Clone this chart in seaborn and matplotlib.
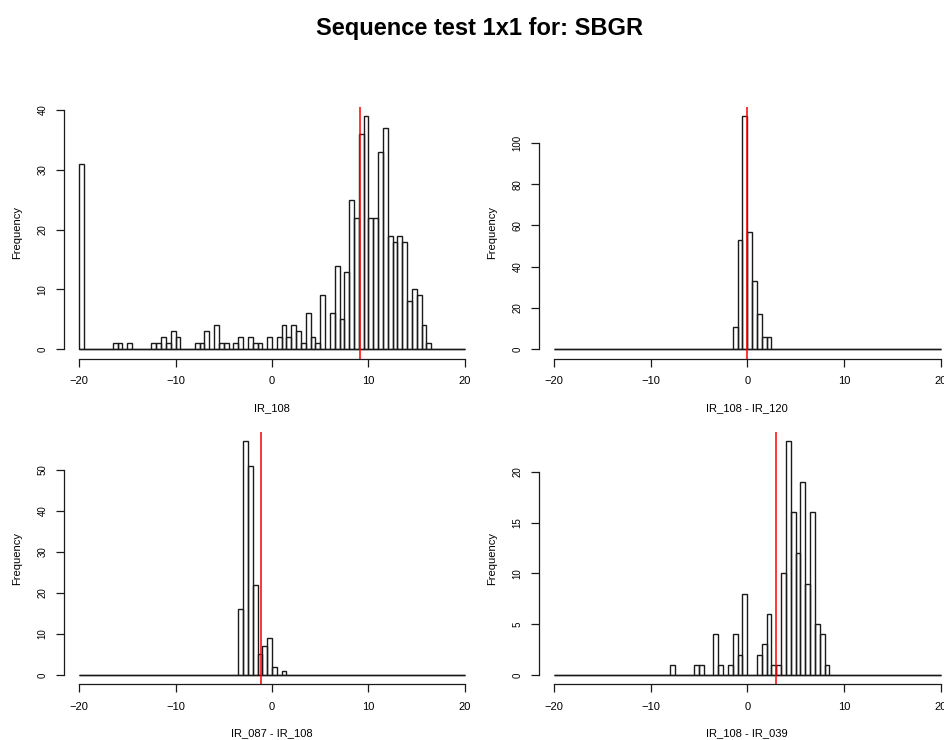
import numpy as np
import pandas as pd
import matplotlib
matplotlib.use("Agg")
import matplotlib.pyplot as plt
import seaborn as sns

# bins are 0.5 wide from -20 to 20; only non-empty bins listed (bin start, count)
ir108_starts = [-20, -16.5, -16, -15, -12.5, -12, -11.5, -11, -10.5, -10, -8, -7.5, -7,
                -6, -5.5, -5, -4, -3.5, -2.5, -2, -1.5, -0.5, 0.5, 1, 1.5, 2, 2.5, 3,
                3.5, 4, 4.5, 5, 6, 6.5, 7, 7.5, 8, 8.5, 9, 9.5, 10, 10.5, 11, 11.5, 12,
                12.5, 13, 13.5, 14, 14.5, 15, 15.5, 16]
ir108_counts = [31, 1, 1, 1, 1, 1, 2, 1, 3, 2, 1, 1, 3,
                4, 1, 1, 1, 2, 2, 1, 1, 2, 2, 4, 2, 4, 3, 1,
                6, 2, 1, 9, 6, 14, 5, 13, 25, 22, 36, 39, 22, 22, 33, 37, 19,
                18, 19, 18, 8, 10, 9, 4, 1]

d108_120_starts = [-1.5, -1, -0.5, 0, 0.5, 1, 1.5, 2]
d108_120_counts = [11, 53, 113, 57, 33, 17, 6, 6]

d087_108_starts = [-3.5, -3, -2.5, -2, -1.5, -1, -0.5, 0, 1]
d087_108_counts = [16, 57, 51, 22, 5, 7, 9, 2, 1]

d108_039_starts = [-8, -5.5, -5, -3.5, -3, -2, -1.5, -1, -0.5, 1, 1.5, 2, 2.5, 3,
                   3.5, 4, 4.5, 5, 5.5, 6, 6.5, 7, 7.5, 8]
d108_039_counts = [1, 1, 1, 4, 1, 1, 4, 2, 8, 2, 3, 6, 1, 1,
                   10, 23, 16, 12, 19, 9, 16, 5, 4, 1]

xlabels = ["IR_108", "IR_108 - IR_120", "IR_087 - IR_108", "IR_108 - IR_039"]
red_lines = [9.1, 0.0, -1.1, 2.93]
yticks = [[0, 10, 20, 30, 40], [0, 20, 40, 60, 80, 100],
          [0, 10, 20, 30, 40, 50], [0, 5, 10, 15, 20]]
xticks = [-20, -10, 0, 10, 20]

sns.set_theme(style="white")
plt.rcParams["font.family"] = ["Liberation Sans", "DejaVu Sans"]
plt.rcParams["text.color"] = "black"
plt.rcParams["axes.labelcolor"] = "black"
plt.rcParams["xtick.color"] = "black"
plt.rcParams["ytick.color"] = "black"

fig = plt.figure(figsize=(9.44, 7.4), dpi=100)
W, H = 944, 740
# axes boxes in pixels: left, top, right, bottom
boxes = [(63.6, 106.7, 480.4, 358.6), (538.5, 106.7, 956.0, 358.6),
         (63.6, 432.0, 480.4, 684.3), (538.5, 432.0, 956.0, 684.3)]

edges = [-20 + 0.5 * k for k in range(81)]
panels = [(ir108_starts, ir108_counts), (d108_120_starts, d108_120_counts),
          (d087_108_starts, d087_108_counts), (d108_039_starts, d108_039_counts)]

for i, (starts, counts) in enumerate(panels):
    l, t, r, b = boxes[i]
    ax = fig.add_axes([l / W, 1 - b / H, (r - l) / W, (b - t) / H])
    df = pd.DataFrame({"value": np.array(starts, dtype=float) + 0.25,
                       "n": np.array(counts, dtype=float)})
    sns.histplot(data=df, x="value", weights="n", bins=edges,
                 fill=False, color="#1a1a1a", linewidth=1.0, ax=ax)
    # empty bins show as a flat line along zero, like R's hist()
    ax.hlines(0, edges[0], edges[-1], color="#1a1a1a", linewidth=1.0)
    ax.axvline(red_lines[i], color="red", linewidth=1.1)
    top = max(counts)
    ax.set_xlim(-21.6, 21.6)
    ax.set_ylim(-0.04 * top, 1.04 * top)
    ax.set_xticks(xticks)
    ax.set_yticks(yticks[i])
    ax.set_yticklabels([str(v) for v in yticks[i]], rotation=90, va="center")
    for s in ["top", "right"]:
        ax.spines[s].set_visible(False)
    ax.spines["bottom"].set_bounds(-20, 20)
    ax.spines["left"].set_bounds(0, yticks[i][-1])
    for s in ["bottom", "left"]:
        ax.spines[s].set_color("#1a1a1a")
        ax.spines[s].set_linewidth(0.9)
    ax.tick_params(direction="out", length=5.5, width=0.9, color="#1a1a1a",
                   pad=7, left=True, bottom=True)
    ax.tick_params(axis="x", labelsize=8)
    ax.tick_params(axis="y", labelsize=7, pad=6)
    ax.set_xlabel(xlabels[i], fontsize=8, labelpad=12)
    ax.set_ylabel("Frequency", fontsize=8, labelpad=11)

fig.text(480 / W, 1 - 28 / H, "Sequence test 1x1 for: SBGR", fontsize=17,
         fontweight="bold", ha="center", va="center")

fig.savefig("out.png", dpi=100)
